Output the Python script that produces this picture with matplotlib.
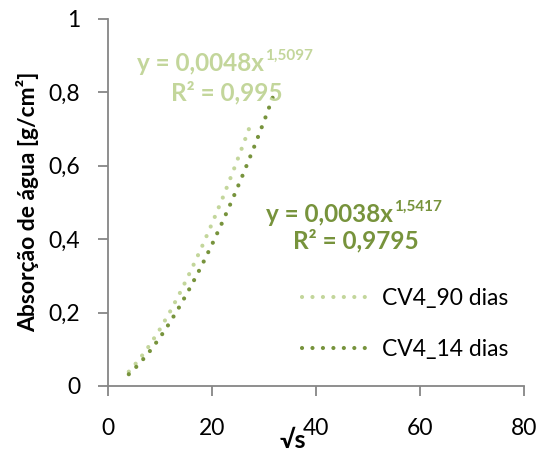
import matplotlib
matplotlib.use("Agg")
import matplotlib.pyplot as plt

# trendline points (x = sqrt(s), y = absorption g/cm2)
x_90 = [4, 6, 8, 10, 12, 14, 16, 18, 20, 22, 24, 26, 27.4]
y_90 = [0.039, 0.072, 0.111, 0.155, 0.204, 0.258, 0.316, 0.377, 0.442, 0.510, 0.582, 0.657, 0.711]
x_14 = [4, 6, 8, 10, 12, 14, 16, 18, 20, 22, 24, 26, 28, 30, 31.7]
y_14 = [0.032, 0.060, 0.094, 0.132, 0.175, 0.222, 0.273, 0.327, 0.385, 0.446, 0.510, 0.577, 0.647, 0.720, 0.786]

labels = ["CV4_90 dias", "CV4_14 dias"]
eq_90 = ("y = 0,0048x", "1,5097", "R² = 0,995")
eq_14 = ("y = 0,0038x", "1,5417", "R² = 0,9795")
xticks = [0, 20, 40, 60, 80]
yticks = [0, 0.2, 0.4, 0.6, 0.8, 1]

light = "#C3D69B"
dark = "#77933C"
axis_grey = "#868686"

plt.rcParams['font.family'] = ['Lato', 'DejaVu Sans']

W, H = 550, 454
fig = plt.figure(figsize=(W / 100, H / 100), dpi=100)
ax = fig.add_axes([108 / W, 1 - 386 / H, (524 - 108) / W, (386 - 18.5) / H])

dots = (0, (0.01, 2.5))
ax.plot(x_90, y_90, color=light, lw=3, linestyle=dots, dash_capstyle='round', label=labels[0])
ax.plot(x_14, y_14, color=dark, lw=3, linestyle=dots, dash_capstyle='round', label=labels[1])

ax.set_xlim(0, 80)
ax.set_ylim(0, 1)
ax.set_xticks(xticks)
ax.set_yticks(yticks)
ax.set_xticklabels([str(t) for t in xticks])
ax.set_yticklabels([("%g" % t).replace(".", ",") for t in yticks])
for s in ["top", "right"]:
    ax.spines[s].set_visible(False)
for s in ["left", "bottom"]:
    ax.spines[s].set_color(axis_grey)
    ax.spines[s].set_linewidth(1.3)
ax.tick_params(direction='out', length=7, width=1.3, color=axis_grey, labelsize=16.5)
ax.tick_params(axis='x', pad=16)
ax.tick_params(axis='y', pad=13)

def px(x, y):
    return x / W, 1 - y / H

# axis titles
fig.text(*px(27.5, 202), "Absorção de água [g/cm²]", rotation=90, ha='center', va='center',
         fontsize=16.5, fontweight='bold')
fig.text(*px(293, 440), "√s", ha='center', va='center', fontsize=18, fontweight='bold')

# trendline equations, exponent drawn right after the main text
def equation(x, y, y2, x2, parts, color):
    t = fig.text(*px(x, y), parts[0], color=color, fontsize=17.5, fontweight='bold', va='baseline')
    fig.text(*px(x2, y2), parts[2], color=color, fontsize=17.5, fontweight='bold', va='baseline')
    fig.axes[0].annotate(parts[1], xy=(1, 1), xycoords=t, xytext=(1, 2), textcoords='offset points',
                         color=color, fontsize=11, fontweight='bold', va='top', ha='left',
                         annotation_clip=False)

equation(137, 71, 100, 171, eq_90, light)
equation(266, 222, 248, 293, eq_14, dark)

ax.legend(loc='upper left', bbox_to_anchor=px(302, 288), bbox_transform=fig.transFigure,
          frameon=False, fontsize=16.5, handlelength=3.0, handletextpad=0.5,
          labelspacing=1.3, borderpad=0, borderaxespad=0)

fig.savefig("out.png", dpi=100)
